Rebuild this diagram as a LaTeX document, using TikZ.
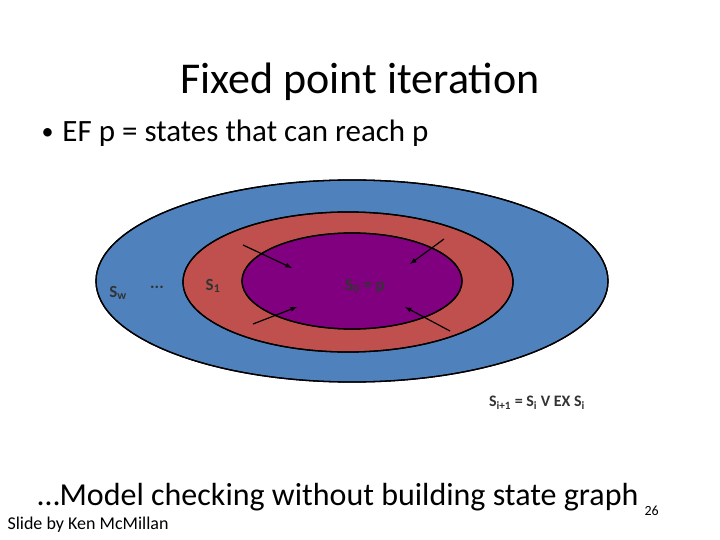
\documentclass[tikz,border=0pt]{standalone}
\usepackage{fontspec}
\setmainfont{Carlito}
\begin{document}
\begin{tikzpicture}[x=1pt,y=-1pt,
  ring/.style={draw=black,line width=1.3pt},
  arr/.style={-latex,line width=1.2pt},
  lbl/.style={font=\fontsize{17}{19}\selectfont\bfseries, text=black!80}]
\useasboundingbox (0,0) rectangle (720,540);
\node (title) at (360,82) {\fontsize{44}{50}\selectfont Fixed point iteration};
\node[anchor=west] (bul) at (38,133) {\fontsize{31}{36}\selectfont \raisebox{2pt}{\fontsize{24}{24}\selectfont •}\hspace{9pt}EF p = states that can reach p};
\fill[ring,fill={rgb,255:red,79;green,129;blue,189}] (352,281) ellipse [x radius=256,y radius=101];
\fill[ring,fill={rgb,255:red,192;green,80;blue,77}] (348,282) ellipse [x radius=165,y radius=70];
\fill[ring,fill={rgb,255:red,128;green,0;blue,128}] (352,281) ellipse [x radius=110,y radius=48];
\draw[ring] (352,281) ellipse [x radius=256,y radius=101];
\draw[ring] (348,282) ellipse [x radius=165,y radius=70];
\draw[ring] (352,281) ellipse [x radius=110,y radius=48];
\coordinate (a1) at (243,245); \coordinate (b1) at (292,268);
\coordinate (a2) at (444,239); \coordinate (b2) at (410,264);
\coordinate (a3) at (253,324); \coordinate (b3) at (297,307);
\coordinate (a4) at (450,331); \coordinate (b4) at (405,307);
\draw[arr] (a1) -- (b1); \draw[arr] (a2) -- (b2);
\draw[arr] (a3) -- (b3); \draw[arr] (a4) -- (b4);
\node[lbl] (sw) at (118,293) {S\textsubscript{w}};
\node[lbl] (dots) at (157,287) {...};
\node[lbl] (s1) at (213,286) {S\textsubscript{1}};
\node[lbl] (s0) at (365,286) {S\textsubscript{0} = p};
\node[lbl,font=\fontsize{16}{18}\selectfont\bfseries] (form) at (537,403) {S\textsubscript{i+1} = S\textsubscript{i} V EX S\textsubscript{i}};
\node[anchor=west] (bot) at (34,497) {\fontsize{32}{36}\selectfont \ldots Model checking without building state graph};
\node[anchor=west] (num) at (641,511) {\fontsize{14}{16}\selectfont 26};
\node[anchor=west] (by) at (4,525) {\fontsize{18}{20}\selectfont Slide by Ken McMillan};
\end{tikzpicture}
\end{document}
